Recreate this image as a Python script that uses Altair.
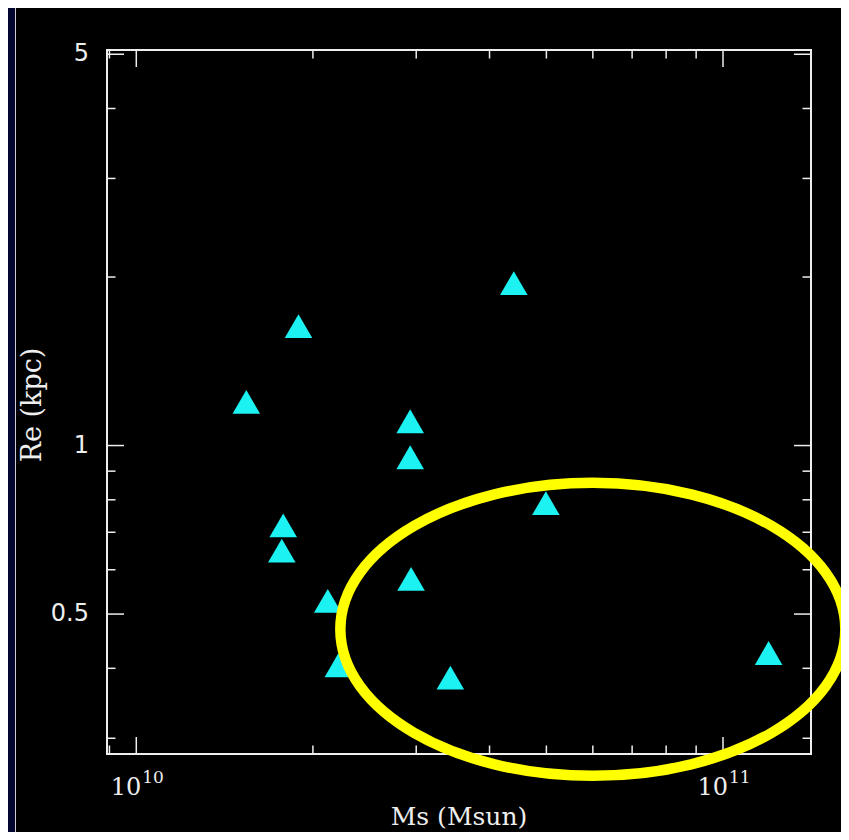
import altair as alt
import pandas as pd

# ---- data ----
mass = [1.54e10, 1.89e10, 4.40e10, 2.93e10, 2.93e10, 1.78e10, 1.77e10,
        2.12e10, 2.21e10, 2.94e10, 3.43e10, 4.99e10, 1.196e11]
re_kpc = [1.197, 1.634, 1.950, 1.105, 0.953, 0.720, 0.649,
          0.528, 0.405, 0.578, 0.385, 0.789, 0.426]

x_major = [1e10, 1e11]
x_major_base = ["10", "10"]
x_major_exp = ["10", "11"]
x_minor = [9e9, 2e10, 3e10, 4e10, 5e10, 6e10, 7e10, 8e10, 9e10]
y_major = [0.5, 1, 5]
y_major_labels = ["0.5", "1", "5"]
y_minor = [0.3, 0.4, 0.6, 0.7, 0.8, 0.9, 2, 3, 4]

x_title = "Ms (Msun)"
y_title = "Re (kpc)"

ellipse_mass = [6.0e10]
ellipse_re = [0.4695]

# ---- layout ----
W, H = 704, 704
MAJ, MIN = 17, 8.5
FG = "#eeeeee"

xs = alt.Scale(type="log", domain=[8.914e9, 1.4125e11], nice=False)
ys = alt.Scale(type="log", domain=[0.2812, 5.088], nice=False)

pts_df = pd.DataFrame({"mass": mass, "re": re_kpc})
xmaj_df = pd.DataFrame({"mass": x_major, "base": x_major_base, "exp": x_major_exp})
xmin_df = pd.DataFrame({"mass": x_minor})
ymaj_df = pd.DataFrame({"re": y_major, "label": y_major_labels})
ymin_df = pd.DataFrame({"re": y_minor})
ell_df = pd.DataFrame({"mass": ellipse_mass, "re": ellipse_re})
one = pd.DataFrame({"a": [0]})
xt_df = pd.DataFrame({"t": [x_title]})
yt_df = pd.DataFrame({"t": [y_title]})

X = lambda: alt.X("mass:Q", scale=xs, axis=None)
Y = lambda: alt.Y("re:Q", scale=ys, axis=None)

# decorative page edge (navy strip + thin white line)
edge = alt.Chart(one).mark_rect(color="#020631").encode(
    x=alt.value(-99), x2=alt.value(-91), y=alt.value(-42), y2=alt.value(782))
edge_line = alt.Chart(one).mark_rule(color="#cccccc", strokeWidth=1).encode(
    x=alt.value(-91.5), y=alt.value(-42), y2=alt.value(782))

def xticks(df, length):
    b = alt.Chart(df).mark_rule(color=FG, strokeWidth=1.5).encode(
        x=X(), y=alt.value(H), y2=alt.value(H - length))
    t = alt.Chart(df).mark_rule(color=FG, strokeWidth=1.5).encode(
        x=X(), y=alt.value(0), y2=alt.value(length))
    return [b, t]

def yticks(df, length):
    l = alt.Chart(df).mark_rule(color=FG, strokeWidth=1.5).encode(
        y=Y(), x=alt.value(0), x2=alt.value(length))
    r = alt.Chart(df).mark_rule(color=FG, strokeWidth=1.5).encode(
        y=Y(), x=alt.value(W), x2=alt.value(W - length))
    return [l, r]

ticks = xticks(xmaj_df, MAJ) + xticks(xmin_df, MIN) + yticks(ymaj_df, MAJ) + yticks(ymin_df, MIN)

xlab_base = alt.Chart(xmaj_df).mark_text(
    align="right", baseline="alphabetic", dx=5, font="DejaVu Serif",
    fontSize=24, color=FG).encode(x=X(), y=alt.value(745), text="base:N")
xlab_exp = alt.Chart(xmaj_df).mark_text(
    align="left", baseline="alphabetic", dx=6, font="DejaVu Serif",
    fontSize=17, color=FG).encode(x=X(), y=alt.value(733), text="exp:N")
ylab = alt.Chart(ymaj_df).mark_text(
    align="right", baseline="middle", font="DejaVu Sans",
    fontSize=24, color=FG).encode(y=Y(), x=alt.value(-18), text="label:N")

xtitle = alt.Chart(xt_df).mark_text(
    align="center", baseline="alphabetic", font="DejaVu Serif",
    fontSize=25, color=FG).encode(x=alt.value(352), y=alt.value(775), text="t:N")
ytitle = alt.Chart(yt_df).mark_text(
    align="center", baseline="alphabetic", font="DejaVu Serif", angle=270,
    fontSize=27, color=FG).encode(x=alt.value(-66), y=alt.value(355), text="t:N")

points = alt.Chart(pts_df).mark_point(
    shape="triangle-up", filled=True, size=760, color="#1cf2f2", opacity=1
).encode(x=X(), y=Y())

r = 146.5 / 252.5
k = 0.5523
path = (f"M 1 0 C 1 {k*r:.4f} {k:.4f} {r:.4f} 0 {r:.4f} "
        f"C {-k:.4f} {r:.4f} -1 {k*r:.4f} -1 0 "
        f"C -1 {-k*r:.4f} {-k:.4f} {-r:.4f} 0 {-r:.4f} "
        f"C {k:.4f} {-r:.4f} 1 {-k*r:.4f} 1 0 Z")

ellipse = alt.Chart(ell_df).mark_point(
    shape=path, size=505 ** 2, filled=False, color="#ffff00",
    strokeWidth=10.5, opacity=1).encode(x=X(), y=Y())

chart = alt.layer(edge, edge_line, *ticks, xlab_base, xlab_exp, ylab,
                  xtitle, ytitle, points, ellipse).properties(
    width=W, height=H,
    autosize=alt.AutoSizeParams(type="none"),
    padding={"left": 99, "top": 42, "right": 30, "bottom": 78},
    background="#000000",
).configure_view(stroke=FG, strokeWidth=2, fill="#000000")

chart.save("out.html", embed_options={"renderer": "svg", "actions": False})
